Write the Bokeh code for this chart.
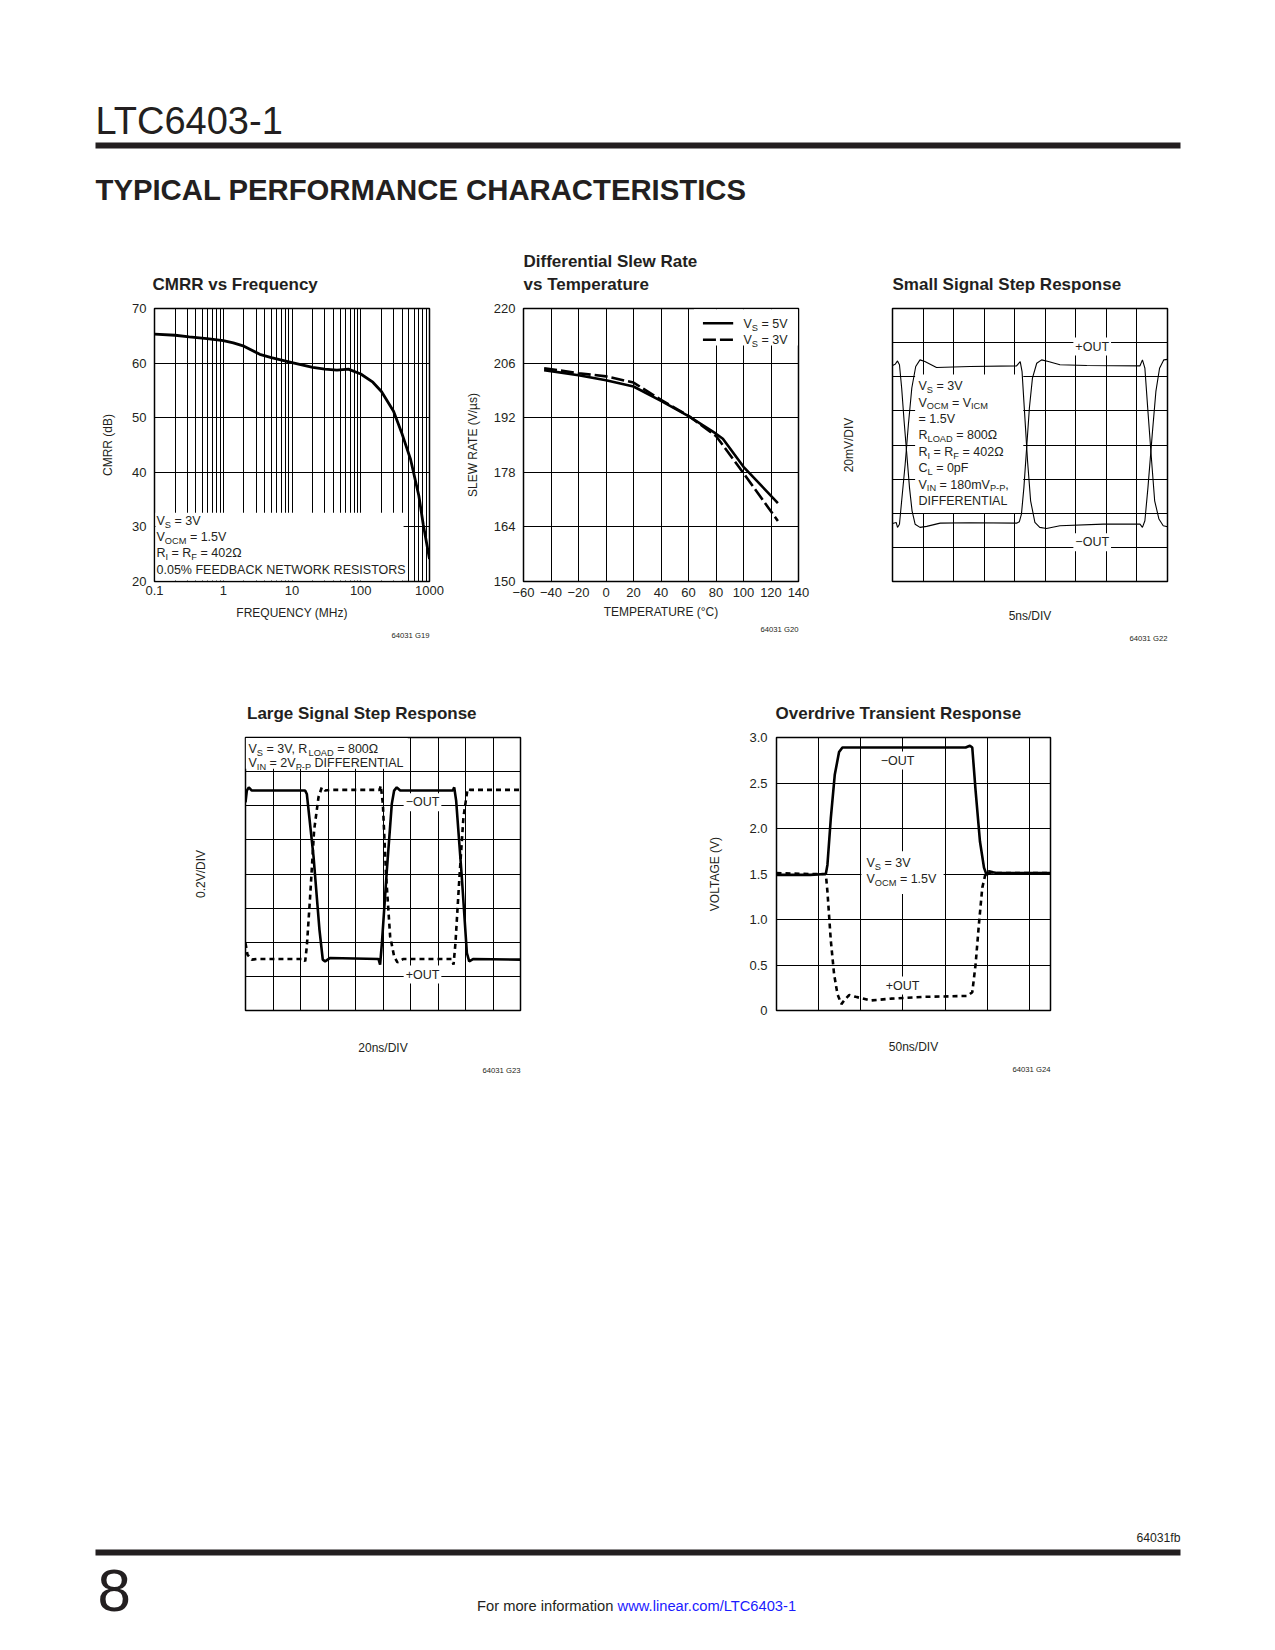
from bokeh.plotting import figure
from bokeh.models import Range1d, FixedTicker, CustomJSTickFormatter, Label, BoxAnnotation, Spacer, Title
from bokeh.layouts import column, row
from bokeh.embed import file_html
from bokeh.resources import INLINE

FONT = "Liberation Sans"
INK = "#231f20"

# ---------------- data ----------------
# CMRR vs Frequency (MHz, dB)
cmrr_freq = [0.1, 0.2, 0.32, 0.58, 1.0, 1.4, 2.0, 3.4, 5.0, 10, 20, 30, 45, 66, 100, 150, 200, 300, 400, 530, 700, 810, 1000]
cmrr_db = [65.3, 65.1, 64.8, 64.5, 64.1, 63.7, 63.1, 61.6, 61.0, 60.1, 59.2, 58.9, 58.7, 58.9, 58.0, 56.5, 54.8, 51.2, 47.0, 42.4, 35.7, 30.5, 24.1]
cmrr_xticks = [0.1, 1, 10, 100, 1000]
cmrr_yticks = [20, 30, 40, 50, 60, 70]

# Differential slew rate vs temperature
slew_temp_5v = [-45, -20, 0, 20, 40, 60, 80, 85, 100, 125]
slew_5v = [204.2, 202.9, 201.6, 200.0, 196.3, 192.4, 187.9, 186.6, 179.4, 170.1]
slew_temp_3v = [-45, -20, 0, 20, 40, 60, 80, 100, 125]
slew_3v = [204.7, 203.4, 202.6, 201.0, 196.6, 192.5, 187.3, 177.8, 165.5]
slew_xticks = [-60, -40, -20, 0, 20, 40, 60, 80, 100, 120, 140]
slew_yticks = [150, 164, 178, 192, 206, 220]

# Small signal step response (ns, mV)
ss_t_plus = [0, 0.44, 0.82, 1.14, 1.5, 1.9, 2.34, 2.78, 3.2, 3.7, 4.5, 5.6, 7.8, 12.7, 20.3, 20.75, 21.1, 21.5, 21.95, 22.4, 22.9, 23.6, 24.4, 25.5, 27.4, 31.8, 40.5, 40.9, 41.3, 41.8, 42.4, 42.9, 43.6, 44.3, 45]
ss_plus = [46.6, 47.3, 49.3, 47.0, 33.4, 13.9, -5.5, -25.0, -38.6, -46.4, -48.3, -47.7, -45.8, -45.6, -45.8, -45.0, -40.5, -25.0, -1.6, 21.7, 39.2, 47.9, 49.9, 48.9, 47.0, 46.6, 46.4, 49.9, 45.0, 19.7, -9.4, -32.7, -43.4, -47.3, -47.9]
ss_t_minus = [0, 0.6, 0.82, 1.14, 1.5, 2.07, 2.6, 3.16, 3.8, 4.5, 5.3, 7.2, 12.7, 20.3, 20.9, 21.2, 21.6, 22.1, 22.6, 23.3, 24.1, 25.2, 27.4, 34.5, 40.5, 40.9, 41.3, 41.8, 42.5, 43.1, 43.7, 44.4, 45]
ss_minus = [-46.0, -45.4, -48.3, -46.4, -32.7, -11.4, 12.0, 33.4, 46.0, 49.9, 48.9, 45.4, 46.0, 46.4, 48.9, 43.0, 19.7, -9.4, -32.7, -45.4, -48.3, -48.9, -47.3, -46.4, -46.4, -48.3, -44.4, -25.0, 6.1, 31.4, 45.0, 49.9, 50.2]

# Large signal step response (ns, V)
ls_t_minus = [0, 0.97, 2.4, 4.6, 43.4, 44.6, 49.5, 53.8, 56.2, 57.9, 61.6, 96.7, 97.9, 99.2, 102.8, 106.4, 108.1, 110.0, 112.5, 150.8, 151.8, 153.2, 157.3, 161.0, 162.7, 165.8, 200]
ls_minus = [0.42, 0.489, 0.508, 0.489, 0.489, 0.469, 0.10, -0.327, -0.502, -0.512, -0.492, -0.498, -0.531, -0.405, 0.022, 0.411, 0.489, 0.508, 0.489, 0.489, 0.508, 0.43, -0.016, -0.463, -0.512, -0.498, -0.502]
ls_t_plus = [0, 1.45, 4.6, 8.2, 42.2, 43.4, 44.6, 47.0, 49.9, 53.1, 55.5, 57.9, 61.6, 97.5, 98.4, 99.9, 102.3, 105.2, 108.1, 110.5, 114.9, 150.0, 151.3, 152.7, 155.6, 158.5, 161.5, 163.4, 200]
ls_plus = [-0.405, -0.473, -0.502, -0.498, -0.498, -0.512, -0.424, -0.133, 0.256, 0.45, 0.508, 0.489, 0.493, 0.493, 0.518, 0.411, -0.017, -0.366, -0.483, -0.518, -0.498, -0.498, -0.531, -0.405, -0.017, 0.333, 0.498, 0.493, 0.493]

# Overdrive transient response (ns, V)
od_t_minus = [0, 40, 58.5, 60.4, 64.4, 69.1, 74.2, 78.2, 150, 224.3, 229.4, 232.2, 236.2, 241.3, 246.1, 249.2, 252.0, 255.9, 261.8, 325]
od_minus = [1.49, 1.49, 1.50, 1.60, 2.11, 2.59, 2.84, 2.89, 2.89, 2.89, 2.91, 2.89, 2.41, 1.86, 1.57, 1.49, 1.51, 1.52, 1.51, 1.51]
od_t_plus = [0, 40, 58.5, 60.4, 64.4, 68.3, 72.3, 77.0, 81.0, 86.1, 94.0, 111.8, 135.5, 174.9, 226.3, 232.2, 236.2, 240.1, 244.1, 248.1, 252.0, 260, 325]
od_plus = [1.51, 1.50, 1.50, 1.31, 0.77, 0.40, 0.18, 0.07, 0.12, 0.17, 0.15, 0.11, 0.13, 0.15, 0.16, 0.20, 0.51, 0.95, 1.35, 1.51, 1.53, 1.51, 1.51]
od_yticks = [0, 0.5, 1.0, 1.5, 2.0, 2.5, 3.0]

# ---------------- helpers ----------------
AW = {' ': 278, '!': 278, '%': 889, '(': 333, ')': 333, '+': 584, ',': 278, '-': 333, '.': 278, '/': 278,
      '=': 584, 'A': 667, 'B': 667, 'C': 722, 'D': 722, 'E': 667, 'F': 611, 'G': 778, 'H': 722, 'I': 278,
      'J': 500, 'K': 667, 'L': 556, 'M': 833, 'N': 722, 'O': 778, 'P': 667, 'Q': 778, 'R': 722, 'S': 667,
      'T': 611, 'U': 722, 'V': 667, 'W': 944, 'X': 667, 'Y': 667, 'Z': 611, 'a': 556, 'b': 556, 'c': 500,
      'd': 556, 'e': 556, 'f': 278, 'g': 556, 'h': 556, 'i': 222, 'j': 222, 'k': 500, 'l': 222, 'm': 833,
      'n': 556, 'o': 556, 'p': 556, 'q': 556, 'r': 333, 's': 500, 't': 278, 'u': 556, 'v': 500, 'w': 722,
      'x': 500, 'y': 500, 'z': 500, 'Ω': 768, 'µ': 556, '°': 400, '−': 584}

BODY = 12.5


def tw(s, size):
    return sum(AW.get(c, 556) for c in s) * size / 1000.0


def label(p, org, px, py, text, size=BODY, align="left", mid=False, color=INK, bg=None, bold=False):
    """py is the text baseline unless mid=True (then it is the vertical centre)."""
    cy = py if mid else py - 0.35 * size
    kw = {}
    if bg:
        kw = dict(background_fill_color=bg, background_fill_alpha=1.0, padding=2)
    p.add_layout(Label(x=px - org[0], y=cy - org[1], x_units="canvas", y_units="canvas", text=text,
                       text_font=FONT, text_font_size=f"{size}px", text_color=color,
                       text_font_style="bold" if bold else "normal", text_align=align,
                       text_baseline="middle", **kw))


def rich(p, org, px, py, parts, size=BODY):
    sub = round(size * 0.74, 2)
    x = px
    for txt, is_sub in parts:
        sz = sub if is_sub else size
        lead = len(txt) - len(txt.lstrip(" "))
        x += tw(" " * lead, sz)
        t = txt.lstrip(" ")
        if t:
            label(p, org, x, py + (size * 0.22 if is_sub else 0), t, size=sz)
        x += tw(t, sz)


def chart(w, h, left, right, top, bottom, xr, yr, xtype="linear"):
    p = figure(width=w, height=h, x_range=xr, y_range=yr, x_axis_type=xtype, title=None,
               output_backend="svg", toolbar_location=None,
               min_border_left=left, min_border_right=right, min_border_top=top, min_border_bottom=bottom)
    p.outline_line_color = "black"
    p.outline_line_width = 1.5
    p.outline_line_alpha = 1.0
    p.background_fill_color = "white"
    p.border_fill_color = "white"
    for ax in p.axis:
        ax.axis_line_color = None
        ax.major_tick_in = 0
        ax.major_tick_out = 0
        ax.minor_tick_in = 0
        ax.minor_tick_out = 0
        ax.major_label_text_font = FONT
        ax.major_label_text_font_size = "13px"
        ax.major_label_text_color = INK
        ax.axis_label_text_font = FONT
        ax.axis_label_text_font_size = "12px"
        ax.axis_label_text_font_style = "normal"
        ax.axis_label_text_color = INK
    p.grid.grid_line_color = "black"
    p.grid.grid_line_width = 1
    p.grid.grid_line_alpha = 1.0
    return p


def title(p, text, offset=0, standoff=29):
    p.add_layout(Title(text=text, align="left", offset=offset, standoff=standoff, text_font=FONT,
                       text_font_size="17px", text_font_style="bold", text_color=INK,
                       text_line_height=1.22), "above")


def note(p, text, standoff=12):
    p.add_layout(Title(text=text, align="right", standoff=standoff, text_font=FONT,
                       text_font_size="7.7px", text_font_style="normal", text_color=INK), "below")


def mask(p, l, r, b, t):
    p.add_layout(BoxAnnotation(left=l, right=r, bottom=b, top=t, fill_color="white", fill_alpha=1.0,
                               line_alpha=0, level="underlay"))


W = 1275

# ---------------- header ----------------
hdr = figure(width=W, height=230, x_range=Range1d(0, W), y_range=Range1d(230, 0), output_backend="svg",
             toolbar_location=None, x_axis_location=None, y_axis_location=None, min_border=0, title=None)
hdr.grid.visible = False
hdr.outline_line_color = None
hdr.add_layout(Label(x=95, y=120, text="LTC6403-1", text_font=FONT, text_font_size="38px", text_color=INK,
                     text_baseline="middle"))
hdr.add_layout(BoxAnnotation(left=95, right=1180, top=142, bottom=148, fill_color=INK, fill_alpha=1.0,
                             line_alpha=0))
hdr.add_layout(Label(x=95, y=188.5, text="TYPICAL PERFORMANCE CHARACTERISTICS", text_font=FONT,
                     text_font_size="29.3px", text_font_style="bold", text_color=INK,
                     text_baseline="middle"))

# ---------------- chart A: CMRR ----------------
oA = (0, 230)
pA = chart(450, 430, 154, 21, 77, 79, Range1d(0.1, 1000), Range1d(20, 70), "log")
pA.xaxis.ticker = FixedTicker(ticks=cmrr_xticks)
pA.xaxis.formatter = CustomJSTickFormatter(code="return String(tick);")
pA.yaxis.ticker = FixedTicker(ticks=cmrr_yticks)
pA.xgrid.ticker = FixedTicker(ticks=[m * 10.0 ** e for e in (-1, 0, 1, 2) for m in range(1, 10)][1:])
pA.ygrid.ticker = FixedTicker(ticks=cmrr_yticks[1:-1])
pA.xaxis.axis_label = "FREQUENCY (MHz)"
pA.yaxis.axis_label = "CMRR (dB)"
pA.yaxis.major_label_standoff = 8
pA.yaxis.axis_label_standoff = 14
pA.xaxis.major_label_standoff = 4
pA.xaxis.axis_label_standoff = 8
title(pA, "CMRR vs Frequency", offset=-2)
note(pA, "64031 G19", standoff=12)
mask(pA, 0.1035, 420, 20.2, 32.6)
pA.line(cmrr_freq, cmrr_db, line_color="black", line_width=2.8)
rich(pA, oA, 156, 525, [("V", 0), ("S", 1), (" = 3V", 0)])
rich(pA, oA, 156, 541, [("V", 0), ("OCM", 1), (" = 1.5V", 0)])
rich(pA, oA, 156, 557, [("R", 0), ("I", 1), (" = R", 0), ("F", 1), (" = 402Ω", 0)])
rich(pA, oA, 156, 574, [("0.05% FEEDBACK NETWORK RESISTORS", 0)])

# ---------------- chart B: slew rate ----------------
oB = (450, 230)
pB = chart(380, 430, 73, 32, 78, 78, Range1d(-60, 140), Range1d(150, 220))
pB.xaxis.ticker = FixedTicker(ticks=slew_xticks)
pB.xaxis.formatter = CustomJSTickFormatter(code='return tick < 0 ? "\\u2212" + (-tick) : String(tick);')
pB.yaxis.ticker = FixedTicker(ticks=slew_yticks)
pB.xgrid.ticker = FixedTicker(ticks=slew_xticks[1:-1])
pB.ygrid.ticker = FixedTicker(ticks=slew_yticks[1:-1])
pB.xaxis.axis_label = "TEMPERATURE (°C)"
pB.yaxis.axis_label = "SLEW RATE (V/µs)"
pB.yaxis.major_label_standoff = 8
pB.yaxis.axis_label_standoff = 11
pB.xaxis.major_label_standoff = 6
pB.xaxis.axis_label_standoff = 5
title(pB, "Differential Slew Rate\nvs Temperature")
note(pB, "64031 G20", standoff=3)
mask(pB, 64, 139.6, 210.5, 219.8)
pB.line(slew_temp_5v, slew_5v, line_color="black", line_width=2.6)
pB.line(slew_temp_3v, slew_3v, line_color="black", line_width=2.6, line_dash="13 4")
# legend keys
pB.segment(x0=[70.5], y0=[216.2], x1=[92.5], y1=[216.2], line_color="black", line_width=2.6)
pB.segment(x0=[70.5], y0=[212.0], x1=[92.5], y1=[212.0], line_color="black", line_width=2.6, line_dash="13 4")
rich(pB, oB, 743, 327.5, [("V", 0), ("S", 1), (" = 5V", 0)])
rich(pB, oB, 743, 344, [("V", 0), ("S", 1), (" = 3V", 0)])

# ---------------- chart C: small signal ----------------
oC = (830, 230)
pC = chart(445, 430, 62, 108, 77, 79, Range1d(0, 45), Range1d(-80, 80))
pC.xaxis.ticker = FixedTicker(ticks=[])
pC.yaxis.ticker = FixedTicker(ticks=[])
pC.xgrid.ticker = FixedTicker(ticks=[5, 10, 15, 20, 25, 30, 35, 40])
pC.ygrid.ticker = FixedTicker(ticks=[-60, -40, -20, 0, 20, 40, 60])
pC.xaxis.axis_label = "5ns/DIV"
pC.yaxis.axis_label = "20mV/DIV"
pC.xaxis.major_label_standoff = 0
pC.yaxis.major_label_standoff = 0
pC.yaxis.axis_label_standoff = 37
pC.xaxis.axis_label_standoff = 27
title(pC, "Small Signal Step Response")
note(pC, "64031 G22", standoff=13)
mask(pC, 3.7, 21.4, -39.9, 41.3)
pC.line(ss_t_plus, ss_plus, line_color="black", line_width=1.1)
pC.line(ss_t_minus, ss_minus, line_color="black", line_width=1.1)
label(pC, oC, 1091.7, 346, "+OUT", align="center", mid=True, bg="white")
label(pC, oC, 1091.7, 541.7, "−OUT", align="center", mid=True, bg="white")
ss_lines = [
    [("V", 0), ("S", 1), (" = 3V", 0)],
    [("V", 0), ("OCM", 1), (" = V", 0), ("ICM", 1)],
    [("= 1.5V", 0)],
    [("R", 0), ("LOAD", 1), (" = 800Ω", 0)],
    [("R", 0), ("I", 1), (" = R", 0), ("F", 1), (" = 402Ω", 0)],
    [("C", 0), ("L", 1), (" = 0pF", 0)],
    [("V", 0), ("IN", 1), (" = 180mV", 0), ("P-P", 1), (",", 0)],
    [("DIFFERENTIAL", 0)],
]
for i, parts in enumerate(ss_lines):
    rich(pC, oC, 918, 390 + 16.4 * i, parts)

# ---------------- chart D: large signal ----------------
oD = (0, 660)
pD = chart(560, 440, 245, 40, 77, 89, Range1d(0, 200), Range1d(-0.8, 0.8))
pD.xaxis.ticker = FixedTicker(ticks=[])
pD.yaxis.ticker = FixedTicker(ticks=[])
pD.xgrid.ticker = FixedTicker(ticks=[20, 40, 60, 80, 100, 120, 140, 160, 180])
pD.ygrid.ticker = FixedTicker(ticks=[-0.6, -0.4, -0.2, 0, 0.2, 0.4, 0.6])
pD.xaxis.axis_label = "20ns/DIV"
pD.yaxis.axis_label = "0.2V/DIV"
pD.xaxis.major_label_standoff = 0
pD.yaxis.major_label_standoff = 0
pD.yaxis.axis_label_standoff = 38
pD.xaxis.axis_label_standoff = 30
title(pD, "Large Signal Step Response", offset=1.5)
note(pD, "64031 G23", standoff=12)
mask(pD, 0.15, 118, 0.617, 0.797)
pD.line(ls_t_plus, ls_plus, line_color="black", line_width=2.6, line_dash="5 4")
pD.line(ls_t_minus, ls_minus, line_color="black", line_width=2.6)
rich(pD, oD, 248, 753, [("V", 0), ("S", 1), (" = 3V, R", 0), ("LOAD", 1), (" = 800Ω", 0)])
rich(pD, oD, 248, 767, [("V", 0), ("IN", 1), (" = 2V", 0), ("P-P", 1), (" DIFFERENTIAL", 0)])
label(pD, oD, 422, 801.7, "−OUT", align="center", mid=True, bg="white")
label(pD, oD, 422, 974, "+OUT", align="center", mid=True, bg="white")

# ---------------- chart E: overdrive ----------------
oE = (560, 660)
pE = chart(715, 440, 216, 225, 76, 90, Range1d(0, 325), Range1d(0, 3))
pE.xaxis.ticker = FixedTicker(ticks=[])
pE.yaxis.ticker = FixedTicker(ticks=od_yticks)
pE.yaxis.formatter = CustomJSTickFormatter(code='return tick == 0 ? "0" : tick.toFixed(1);')
pE.xgrid.ticker = FixedTicker(ticks=[50, 100, 150, 200, 250, 300])
pE.ygrid.ticker = FixedTicker(ticks=od_yticks[1:-1])
pE.xaxis.axis_label = "50ns/DIV"
pE.yaxis.axis_label = "VOLTAGE (V)"
pE.xaxis.major_label_standoff = 0
pE.yaxis.major_label_standoff = 9
pE.yaxis.axis_label_standoff = 24
pE.xaxis.axis_label_standoff = 29
title(pE, "Overdrive Transient Response", offset=-1)
note(pE, "64031 G24", standoff=12)
mask(pE, 100.7, 198.2, 1.28, 1.75)
pE.line(od_t_plus, od_plus, line_color="black", line_width=2.6, line_dash="5 4")
pE.line(od_t_minus, od_minus, line_color="black", line_width=2.6)
label(pE, oE, 897, 760, "−OUT", align="center", mid=True, bg="white")
label(pE, oE, 902, 985, "+OUT", align="center", mid=True, bg="white")
rich(pE, oE, 866, 867, [("V", 0), ("S", 1), (" = 3V", 0)])
rich(pE, oE, 866, 883, [("V", 0), ("OCM", 1), (" = 1.5V", 0)])

# ---------------- footer ----------------
ftr = figure(width=W, height=125, x_range=Range1d(0, W), y_range=Range1d(125, 0), output_backend="svg",
             toolbar_location=None, x_axis_location=None, y_axis_location=None, min_border=0, title=None)
ftr.grid.visible = False
ftr.outline_line_color = None
ftr.add_layout(Label(x=1180, y=17, text="64031fb", text_font=FONT, text_font_size="12.2px", text_color=INK,
                     text_align="right", text_baseline="middle"))
ftr.add_layout(BoxAnnotation(left=95, right=1180, top=29, bottom=35, fill_color=INK, fill_alpha=1.0,
                             line_alpha=0))
ftr.add_layout(Label(x=97, y=69.5, text="8", text_font=FONT, text_font_size="60px", text_color=INK,
                     text_baseline="middle"))
fx = 476.6
ftr.add_layout(Label(x=fx, y=85.5, text="For more information", text_font=FONT, text_font_size="14.7px",
                     text_color=INK, text_baseline="middle"))
ftr.add_layout(Label(x=fx + tw("For more information ", 14.7), y=85.5, text="www.linear.com/LTC6403-1",
                     text_font=FONT, text_font_size="14.7px", text_color="#1a1aff", text_baseline="middle"))

page = column(hdr, row(pA, pB, pC), row(pD, pE), Spacer(width=W, height=420), ftr)

with open("out.html", "w", encoding="utf-8") as f:
    f.write(file_html(page, INLINE))
